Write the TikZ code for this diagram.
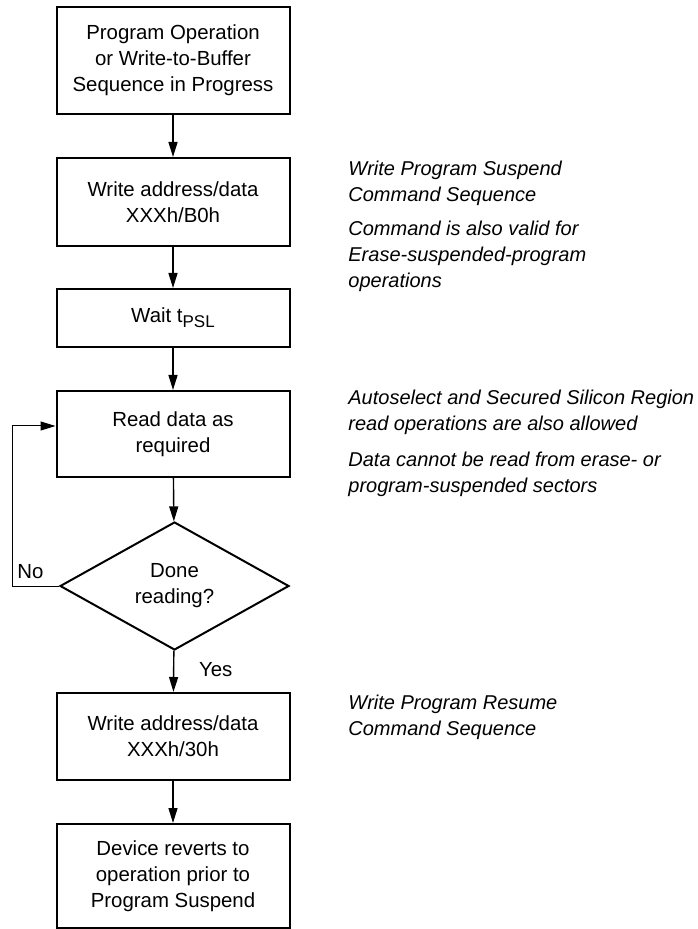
\documentclass[tikz,border=0pt]{standalone}
\usepackage{fontspec}
\setmainfont{Liberation Sans}
\usetikzlibrary{shapes.geometric, arrows.meta, positioning}

\begin{document}
\begin{tikzpicture}[
        x=0.5pt, y=-0.5pt,
        font=\fontsize{10.2}{13}\selectfont,
        box/.style={rectangle, draw, line width=1pt, minimum width=116.5pt, inner sep=0pt, align=center},
        decision/.style={diamond, draw, line width=1pt, aspect=1.8, minimum width=114.5pt, minimum height=64pt, inner sep=0pt, align=center},
        note/.style={anchor=west, align=left, inner sep=0pt, font=\fontsize{10}{13}\selectfont\itshape},
        arrow/.style={-{Triangle[length=7.5pt,width=4.5pt]}, line width=0.7pt}
    ]
        \useasboundingbox (0,0) rectangle (697,929);

        % Flow
        \node[box, minimum height=53.5pt] (b1) at (173,60.5) {Program Operation\\or Write-to-Buffer\\Sequence in Progress};
        \node[box, minimum height=44pt] (b2) at (173,202) {Write address/data\\XXXh/B0h};
        \node[box, minimum height=29pt] (b3) at (173,318) {Wait t\raisebox{-0.45ex}{\fontsize{8.5}{8.5}\selectfont PSL}};
        \node[box, minimum height=43pt] (b4) at (173,434) {Read data as\\required};
        \node[decision] (d) at (174.5,586) {Done\\reading?};
        \node[box, minimum height=43.5pt] (b5) at (173,736.5) {Write address/data\\XXXh/30h};
        \node[box, minimum height=52pt] (b6) at (173,876) {Device reverts to\\operation prior to\\Program Suspend};

        \draw[arrow] (b1) -- (b2);
        \draw[arrow] (b2) -- (b3);
        \draw[arrow] (b3) -- (b4);
        \draw[arrow] (b4) -- (d);
        \draw[arrow] (d) -- node[right=9pt, pos=0.45] (yes) {Yes} (b5);
        \draw[arrow] (b5) -- (b6);

        % Loop back
        \coordinate (lp) at (12,426);
        \draw[arrow, line width=0.5pt] (d.west) -| node[pos=0.25, above, xshift=-2.5pt] (no) {No} (lp) -- (lp -| b4.west);

        % Notes
        \node[note] (n1) at (348,183.5) {Write Program Suspend\\Command Sequence};
        \node[note] (n2) at (348,256) {Command is also valid for\\Erase-suspended-program\\operations};
        \node[note] (n3) at (348,412.5) {Autoselect and Secured Silicon Region\\read operations are also allowed};
        \node[note] (n4) at (348,474) {Data cannot be read from erase- or\\program-suspended sectors};
        \node[note] (n5) at (348,717.5) {Write Program Resume\\Command Sequence};
    \end{tikzpicture}
\end{document}
